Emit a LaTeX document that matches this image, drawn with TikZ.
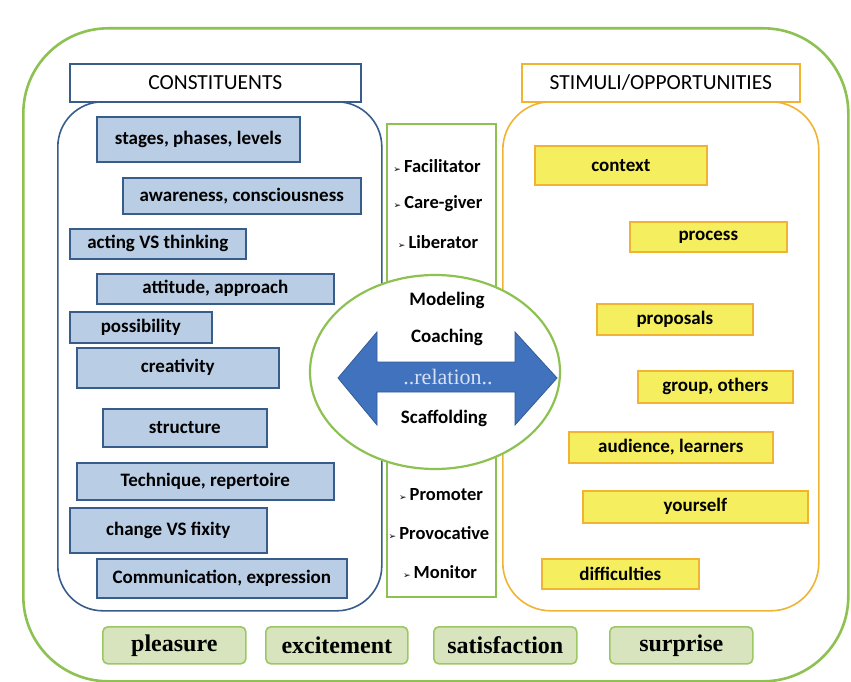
\documentclass[tikz,border=0pt]{standalone}
\usepackage{fontspec}
\setmainfont{Carlito}
\newfontfamily\bserif{Liberation Serif}
\newfontfamily\dvs{DejaVu Sans}
\usetikzlibrary{shapes.geometric}
\definecolor{outerg}{RGB}{141,194,82}
\definecolor{gfill}{RGB}{215,228,189}
\definecolor{gline}{RGB}{155,200,100}
\definecolor{bfill}{RGB}{185,205,229}
\definecolor{bline}{RGB}{56,93,138}
\definecolor{yfill}{RGB}{245,238,95}
\definecolor{yline}{RGB}{240,180,50}
\definecolor{arrowblue}{RGB}{64,114,190}
\definecolor{reltext}{RGB}{215,225,245}
\newcommand\mybox[7]{\node[#1, anchor=north west, minimum width={(#5-#3)*1pt}, minimum height={(#6-#4)*1pt}] (#2) at (#3,#4) {#7};}
\newcommand\bul{{\dvs\fontsize{9}{9}\selectfont ➢}\,}
\begin{document}
\begin{tikzpicture}[x=1pt,y=-1pt,
  bluebox/.style={draw=bline, fill=bfill, line width=1.6pt, inner sep=0pt, font=\bfseries\fontsize{19}{21}\selectfont},
  yelbox/.style={draw=yline, fill=yfill, line width=1.6pt, inner sep=0pt, font=\bfseries\fontsize{19}{21}\selectfont},
  grnbox/.style={draw=gline, fill=gfill, line width=1.6pt, rounded corners=5pt, inner sep=0pt, font=\bserif\bfseries\fontsize{24}{26}\selectfont},
  header/.style={fill=white, line width=1.6pt, inner sep=0pt, font=\fontsize{21.5}{23}\selectfont},
  role/.style={inner sep=0pt, font=\bfseries\fontsize{18.5}{20}\selectfont},
  elabel/.style={inner sep=0pt, font=\bfseries\fontsize{19}{21}\selectfont}]
\useasboundingbox (0,0) rectangle (851,682);
\fill[white] (0,0) rectangle (851,682);
% outer frame
\mybox{draw=outerg, line width=2.6pt, rounded corners=85pt}{outer}{22}{27}{847}{680}{}
% containers
\mybox{draw=bline, line width=1.6pt, rounded corners=45pt}{cleft}{57}{101}{381}{610}{}
\mybox{draw=yline, line width=1.6pt, rounded corners=48pt}{cright}{502}{101}{818}{610}{}
\mybox{draw=outerg, line width=2pt}{mid}{386}{123}{495}{596}{}
% headers
\mybox{header, draw=bline}{hc}{69}{63}{360}{101}{CONSTITUENTS}
\mybox{header, draw=yline}{hs}{521}{63}{799}{101}{STIMULI/OPPORTUNITIES}
% constituent boxes
\mybox{bluebox}{b1}{96}{116}{299}{161}{stages, phases, levels}
\mybox{bluebox}{b2}{122}{177}{360}{213}{awareness, consciousness}
\mybox{bluebox}{b3}{69}{228}{245}{258}{acting VS thinking}
\mybox{bluebox}{b4}{96}{273}{333}{303}{attitude, approach}
\mybox{bluebox}{b5}{69}{311}{211}{342}{possibility}
\mybox{bluebox}{b6}{76}{347}{278}{387}{creativity}
\mybox{bluebox}{b7}{102}{408}{266}{446}{structure}
\mybox{bluebox}{b8}{76}{462}{333}{499}{Technique, repertoire}
\mybox{bluebox}{b9}{69}{507}{266}{552}{change VS fixity}
\mybox{bluebox}{b10}{96}{558}{346}{597}{Communication, expression}
% stimuli boxes
\mybox{yelbox}{y1}{534}{145}{706}{184}{context}
\mybox{yelbox}{y2}{629}{221}{786}{251}{process}
\mybox{yelbox}{y3}{596}{303}{752}{334}{proposals}
\mybox{yelbox}{y4}{637}{370}{792}{402}{group, others}
\mybox{yelbox}{y5}{568}{431}{772}{462}{audience, learners}
\mybox{yelbox}{y6}{582}{490}{807}{522}{yourself}
\mybox{yelbox}{y7}{541}{558}{698}{588}{difficulties}
% bottom boxes
\mybox{grnbox}{g1}{102}{626}{245}{663}{pleasure}
\mybox{grnbox}{g2}{265}{626}{407}{663}{excitement}
\mybox{grnbox}{g3}{433}{626}{576}{663}{satisfaction}
\mybox{grnbox}{g4}{609}{626}{752}{663}{surprise}
% roles
\node[role] (r1) at (437,166) {\bul Facilitator};
\node[role] (r2) at (438,204) {\bul Care-giver};
\node[role] (r3) at (438,242) {\bul Liberator};
\node[role] (r4) at (441,495) {\bul Promoter};
\node[role] (r5) at (439,533) {\bul Provocative};
\node[role] (r6) at (440,572) {\bul Monitor};
% ellipse
\node[ellipse, draw=outerg, fill=white, line width=2.2pt, minimum width=250pt, minimum height=194pt] (ell) at (435,372) {};
% double arrow
\filldraw[fill=arrowblue, draw=arrowblue!80!black, line width=0.8pt]
  (338,378) -- (377,332) -- (377,362) -- (515,362) -- (515,332) -- (557,378)
  -- (515,425) -- (515,392) -- (377,392) -- (377,425) -- cycle;
\node[inner sep=0pt, text=reltext, font=\bserif\fontsize{22}{24}\selectfont] (rel) at (448,377) {..relation..};
\node[elabel] (e1) at (447,300) {Modeling};
\node[elabel] (e2) at (447,337) {Coaching};
\node[elabel] (e3) at (444,418) {Scaffolding};
\end{tikzpicture}
\end{document}
